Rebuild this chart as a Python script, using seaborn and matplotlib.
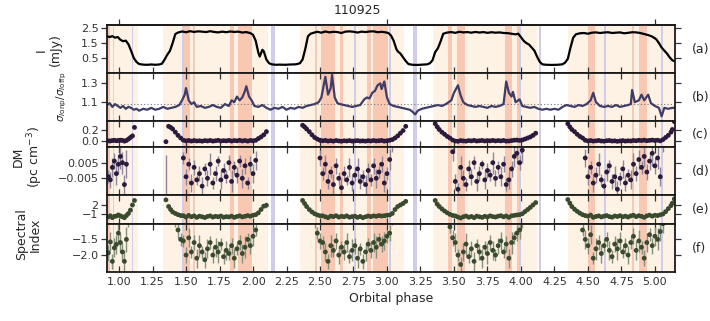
import numpy as np
import pandas as pd
import matplotlib
matplotlib.use("Agg")
import matplotlib.pyplot as plt
import seaborn as sns

# ---------------- data ----------------
title = "110925"
panel_tags = ["(a)", "(b)", "(c)", "(d)", "(e)", "(f)"]

# (a) total intensity
phase_a = [0.91,0.93,0.95,0.97,0.99,1.01,1.03,1.05,1.07,1.09,1.11,1.13,1.15,1.18,1.21,1.24,1.27,1.30,1.32,1.34,
           1.36,1.38,1.40,1.42,1.44,1.47,1.50,1.53,1.56,1.59,1.62,1.65,1.68,1.71,1.74,1.77,1.80,1.83,1.86,1.89,
           1.92,1.95,1.98,2.00,2.02,2.04,2.05,2.07,2.08,2.10,2.12,2.14,2.17,2.20,2.24,2.28,2.32,2.35,2.37,2.39,
           2.41,2.43,2.45,2.48,2.51,2.54,2.57,2.60,2.63,2.66,2.69,2.72,2.75,2.78,2.81,2.84,2.87,2.90,2.93,2.96,
           2.99,3.01,3.03,3.05,3.07,3.08,3.10,3.12,3.14,3.16,3.19,3.23,3.27,3.30,3.32,3.34,3.36,3.38,3.40,3.42,
           3.45,3.48,3.51,3.54,3.57,3.60,3.63,3.66,3.69,3.72,3.75,3.78,3.81,3.84,3.87,3.90,3.93,3.96,3.98,4.00,
           4.02,4.04,4.06,4.08,4.10,4.12,4.14,4.16,4.19,4.23,4.27,4.31,4.33,4.35,4.37,4.39,4.41,4.44,4.47,4.50,
           4.53,4.56,4.59,4.62,4.65,4.68,4.71,4.74,4.77,4.80,4.83,4.86,4.89,4.92,4.95,4.98,5.01,5.03,5.05,5.07,
           5.09,5.11,5.13,5.15]
flux_a = [1.95,1.90,1.96,1.86,1.90,1.72,1.62,1.66,1.42,0.98,0.50,0.24,0.10,0.06,0.05,0.07,0.05,0.07,0.12,0.40,
          0.72,0.98,1.50,2.10,2.20,2.27,2.22,2.29,2.24,2.28,2.26,2.23,2.29,2.24,2.21,2.26,2.22,2.27,2.24,2.26,
          2.20,2.23,2.16,2.05,1.65,0.85,0.60,1.05,0.95,0.40,0.15,0.08,0.05,0.06,0.05,0.07,0.08,0.15,0.40,1.10,
          1.95,2.12,2.18,2.25,2.19,2.27,2.21,2.25,2.23,2.17,2.26,2.28,2.25,2.20,2.26,2.23,2.27,2.28,2.22,2.25,
          2.21,2.17,2.00,1.65,1.10,0.95,0.80,0.55,0.30,0.10,0.05,0.04,0.06,0.08,0.15,0.35,0.90,1.15,1.60,2.12,
          2.20,2.23,2.18,2.25,2.21,2.23,2.19,2.24,2.20,2.23,2.18,2.22,2.19,2.21,2.17,2.16,2.12,2.08,2.12,1.90,
          1.65,1.50,1.40,1.20,1.00,0.60,0.25,0.08,0.05,0.04,0.05,0.08,0.20,0.45,1.20,1.85,2.08,2.15,2.17,2.12,
          2.19,2.21,2.17,2.20,2.22,2.17,2.19,2.21,2.15,2.18,2.22,2.21,2.17,2.10,2.03,1.93,1.75,1.50,1.20,1.00,
          0.80,0.55,0.35,0.28]

# (b) on/off-pulse rms ratio
phase_b = [0.91,0.93,0.95,0.97,0.99,1.01,1.03,1.05,1.07,1.09,1.11,1.13,1.15,1.18,1.21,1.24,1.27,1.30,1.33,1.36,
           1.39,1.42,1.45,1.47,1.49,1.50,1.52,1.54,1.56,1.58,1.61,1.64,1.67,1.70,1.73,1.76,1.79,1.82,1.84,1.86,
           1.88,1.90,1.92,1.94,1.95,1.97,1.99,2.01,2.04,2.07,2.10,2.13,2.16,2.19,2.22,2.25,2.28,2.31,2.34,2.37,
           2.40,2.43,2.46,2.49,2.51,2.53,2.54,2.56,2.58,2.59,2.61,2.63,2.65,2.68,2.71,2.74,2.77,2.80,2.83,2.85,
           2.87,2.89,2.91,2.93,2.95,2.96,2.98,3.00,3.02,3.05,3.08,3.11,3.14,3.17,3.19,3.21,3.23,3.26,3.29,3.32,
           3.35,3.38,3.41,3.44,3.46,3.48,3.50,3.53,3.55,3.57,3.60,3.63,3.66,3.69,3.72,3.75,3.78,3.81,3.84,3.87,
           3.89,3.91,3.93,3.94,3.96,3.99,4.01,4.04,4.07,4.10,4.13,4.16,4.19,4.22,4.25,4.28,4.31,4.34,4.37,4.40,
           4.43,4.46,4.49,4.52,4.54,4.56,4.59,4.62,4.65,4.68,4.71,4.74,4.77,4.80,4.82,4.83,4.85,4.88,4.90,4.92,
           4.95,4.97,5.00,5.03,5.05,5.07,5.10,5.13,5.15]
ratio_b = [1.07,1.09,1.05,1.08,1.06,1.04,1.06,1.03,1.05,1.04,1.02,1.03,1.01,1.03,1.02,1.04,1.02,1.03,1.05,1.03,
           1.04,1.05,1.07,1.12,1.18,1.25,1.12,1.08,1.10,1.05,1.06,1.04,1.05,1.07,1.05,1.04,1.08,1.06,1.12,1.10,
           1.16,1.12,1.15,1.22,1.27,1.16,1.12,1.06,1.05,1.07,1.04,1.02,1.04,1.03,1.05,1.02,1.04,1.03,1.05,1.04,
           1.06,1.07,1.08,1.10,1.15,1.30,1.37,1.18,1.25,1.39,1.15,1.09,1.08,1.07,1.06,1.05,1.06,1.07,1.13,1.15,
           1.14,1.20,1.22,1.28,1.30,1.24,1.32,1.15,1.08,1.06,1.05,1.04,1.03,1.02,1.00,0.97,1.01,1.03,1.04,1.05,
           1.06,1.07,1.06,1.08,1.10,1.12,1.20,1.28,1.17,1.10,1.07,1.06,1.05,1.06,1.05,1.04,1.06,1.05,1.06,1.08,
           1.32,1.20,1.16,1.21,1.10,1.13,1.06,1.05,1.04,1.05,1.03,1.02,1.03,1.02,1.03,1.02,1.05,1.07,1.06,1.05,
           1.07,1.06,1.08,1.12,1.20,1.10,1.06,1.05,1.06,1.05,1.07,1.05,1.06,1.07,1.08,1.23,1.10,1.12,1.18,1.12,
           1.18,1.09,1.06,1.04,0.95,1.04,1.03,1.04,1.04]
ratio_ref = 1.08

# (c)-(f) per-bin DM and spectral index (same bins)
phase_bins = ([0.92,0.935,0.95,0.965,0.98,0.995,1.01,1.025,1.04,1.055,1.07,1.085,1.10,1.115]
    + [1.35,1.37,1.385,1.40,1.42,1.44,1.46,1.48,1.50,1.52,1.54,1.56,1.58,1.60,1.62,1.64,1.66,1.68,1.70,1.72,
       1.74,1.76,1.78,1.80,1.82,1.84,1.86,1.88,1.90,1.92,1.94,1.96,1.98,2.00,2.02,2.04,2.06,2.08,2.10]
    + [2.37,2.385,2.40,2.42,2.44,2.46,2.48,2.50,2.52,2.54,2.56,2.58,2.60,2.62,2.64,2.66,2.68,2.70,2.72,2.74,
       2.76,2.78,2.80,2.82,2.84,2.86,2.88,2.90,2.92,2.94,2.96,2.98,3.00,3.02,3.04,3.06,3.08,3.10,3.12,3.14]
    + [3.36,3.375,3.39,3.41,3.43,3.45,3.47,3.49,3.51,3.53,3.55,3.57,3.59,3.61,3.63,3.65,3.67,3.69,3.71,3.73,
       3.75,3.77,3.79,3.81,3.83,3.85,3.87,3.89,3.91,3.93,3.95,3.97,3.99,4.01,4.03,4.05,4.07,4.09,4.11]
    + [4.35,4.365,4.38,4.40,4.42,4.44,4.46,4.48,4.50,4.52,4.54,4.56,4.58,4.60,4.62,4.64,4.66,4.68,4.70,4.72,
       4.74,4.76,4.78,4.80,4.82,4.84,4.86,4.88,4.90,4.92,4.94,4.96,4.98,5.00,5.02,5.04,5.06,5.08,5.10,5.12,
       5.13,5.145])

dm = ([-0.004,-0.006,0.002,0.006,-0.002,0.004,0.009,0.005,-0.009,0.004,0.03,0.06,0.09,0.25]
    + [-0.02,0.27,0.25,0.22,0.16,0.10,0.05,0.008,-0.004,0.004,-0.008,0.002,-0.006,-0.002,-0.010,0.001,
       -0.005,0.004,-0.008,-0.002,0.006,-0.006,0.000,-0.004,0.005,-0.007,0.002,-0.003,0.006,-0.005,0.003,
       -0.008,0.004,-0.002,0.0065,0.04,0.07,0.11,0.17]
    + [0.29,0.26,0.22,0.17,0.11,0.06,0.03,0.008,-0.002,0.004,-0.007,-0.001,-0.009,0.003,-0.005,-0.011,
       -0.002,-0.006,0.002,-0.008,-0.003,0.001,-0.007,-0.004,-0.009,0.000,-0.006,0.003,-0.005,-0.001,0.004,
       -0.008,-0.002,0.007,0.02,0.05,0.09,0.14,0.19,0.27]
    + [0.32,0.26,0.21,0.16,0.12,0.08,0.05,0.012,-0.007,-0.012,0.002,-0.005,-0.009,0.001,-0.004,0.005,
       -0.007,-0.002,0.004,-0.006,0.000,-0.003,0.005,-0.005,0.002,-0.004,0.004,-0.009,-0.006,0.001,0.009,
       0.011,0.005,0.013,0.03,0.05,0.07,0.10,0.14]
    + [0.32,0.26,0.21,0.17,0.12,0.08,0.05,0.008,-0.004,0.002,-0.008,-0.003,0.004,-0.006,-0.010,-0.001,
       0.003,-0.007,-0.004,-0.012,-0.005,0.001,-0.008,-0.003,-0.006,0.004,-0.002,0.007,0.002,0.009,-0.001,
       0.006,0.011,0.003,0.008,-0.004,0.02,0.06,0.10,0.16,0.21,0.36])

dm_err = ([0.004,0.005,0.006,0.005,0.007,0.006,0.008,0.007,0.006,0.009,0.01,0.012,0.015,0.02]
    + [0.03,0.015,0.012,0.012,0.01,0.01,0.008,0.004,0.005,0.004,0.006,0.005,0.003,0.005,0.006,0.004,
       0.005,0.007,0.004,0.005,0.003,0.006,0.005,0.004,0.005,0.007,0.004,0.005,0.004,0.006,0.005,0.004,
       0.005,0.006,0.006,0.008,0.01,0.012,0.05]
    + [0.015,0.012,0.012,0.01,0.01,0.008,0.008,0.005,0.004,0.006,0.005,0.004,0.007,0.005,0.004,0.006,
       0.005,0.003,0.006,0.005,0.004,0.007,0.005,0.004,0.006,0.005,0.004,0.005,0.006,0.004,0.005,0.006,
       0.004,0.007,0.008,0.01,0.01,0.012,0.012,0.015]
    + [0.015,0.012,0.012,0.01,0.01,0.008,0.008,0.006,0.005,0.004,0.007,0.005,0.004,0.006,0.005,0.004,
       0.006,0.005,0.003,0.006,0.005,0.004,0.007,0.005,0.004,0.006,0.005,0.004,0.006,0.005,0.007,0.006,
       0.005,0.008,0.008,0.01,0.01,0.012,0.015]
    + [0.015,0.012,0.012,0.01,0.01,0.008,0.008,0.006,0.005,0.004,0.006,0.005,0.007,0.004,0.005,0.006,
       0.004,0.005,0.007,0.005,0.004,0.006,0.005,0.004,0.006,0.007,0.005,0.006,0.004,0.007,0.005,0.006,
       0.008,0.005,0.007,0.006,0.008,0.01,0.012,0.012,0.015,0.02])

spec_idx = ([-1.93,-1.58,-2.2,-1.77,-1.66,-1.3,-1.6,-1.9,-2.2,-1.5,-0.8,0.3,2.0,3.5]
    + [3.7,1.5,0.5,-0.3,-0.8,-1.2,-1.5,-1.55,-2.0,-1.45,-1.9,-1.6,-2.1,-1.7,-1.9,-2.15,-1.8,-1.6,-2.0,
       -1.75,-1.9,-1.65,-2.05,-1.85,-1.95,-1.7,-2.1,-1.8,-1.6,-1.95,-1.75,-1.5,-1.7,-1.4,-1.2,-0.6,0.5,1.6,1.9]
    + [3.5,2.5,1.5,0.5,-0.3,-0.9,-1.3,-1.55,-1.6,-1.9,-2.2,-1.7,-1.85,-1.55,-2.0,-1.75,-1.9,-1.6,-2.05,
       -1.85,-1.7,-2.1,-1.8,-2.2,-1.9,-1.65,-1.85,-1.6,-1.75,-1.5,-1.65,-1.55,-1.4,-1.3,-0.8,0.5,1.5,2.0,
       2.5,3.2]
    + [3.5,2.3,1.5,0.7,0.0,-0.6,-1.1,-1.45,-1.6,-2.0,-2.3,-1.9,-1.65,-2.05,-1.8,-2.2,-1.7,-1.9,-2.1,
       -1.75,-1.95,-1.6,-1.85,-2.0,-1.7,-1.55,-1.9,-1.65,-2.1,-1.6,-1.45,-1.3,-1.2,-0.9,-0.2,0.5,1.2,2.0,2.8]
    + [3.8,2.6,1.5,0.6,-0.1,-0.7,-1.2,-1.5,-1.7,-1.35,-2.1,-1.8,-1.6,-1.95,-1.7,-1.5,-1.85,-2.05,-1.65,
       -1.8,-1.55,-1.9,-1.7,-2.0,-1.6,-1.4,-1.85,-1.55,-1.75,-2.1,-1.6,-1.35,-1.7,-1.4,-1.5,-1.25,-1.0,
       -0.2,0.8,1.8,2.6,4.0])

spec_err = ([0.25,0.3,0.25,0.3,0.3,0.35,0.3,0.3,0.35,0.4,0.3,0.3,0.3,0.3]
    + [0.3,0.3,0.3,0.3,0.3,0.25,0.2,0.2,0.25,0.3,0.2,0.25,0.3,0.35,0.2,0.25,0.3,0.2,0.25,0.3,0.35,0.2,
       0.25,0.3,0.2,0.25,0.3,0.2,0.25,0.3,0.35,0.2,0.25,0.3,0.2,0.25,0.3,0.3,1.0]
    + [0.3,0.3,0.3,0.3,0.3,0.25,0.2,0.25,0.2,0.3,0.25,0.35,0.2,0.25,0.3,0.2,0.25,0.3,0.2,0.35,0.25,0.3,
       0.2,0.25,0.3,0.2,0.25,0.3,0.35,0.2,0.25,0.3,0.2,0.25,0.25,0.3,0.3,0.3,0.3,0.3]
    + [0.3,0.3,0.3,0.3,0.3,0.25,0.2,0.25,0.3,0.2,0.25,0.3,0.35,0.2,0.25,0.3,0.2,0.25,0.3,0.2,0.35,0.25,
       0.3,0.2,0.25,0.3,0.2,0.25,0.3,0.35,0.2,0.25,0.3,0.25,0.25,0.3,0.3,0.3,0.3]
    + [0.3,0.3,0.3,0.3,0.3,0.25,0.2,0.3,0.25,0.3,0.2,0.35,0.25,0.3,0.2,0.25,0.3,0.2,0.25,0.35,0.3,0.2,
       0.25,0.3,0.2,0.25,0.3,0.35,0.2,0.25,0.3,0.2,0.25,0.3,0.35,0.3,0.3,0.3,0.3,0.3,0.3,0.3])

# shaded phase intervals
light_spans = [(0.91, 1.14), (1.33, 2.11), (2.35, 3.13), (3.34, 4.12), (4.35, 5.15)]
salmon_spans = [(0.92, 0.93), (0.955, 0.965), (1.485, 1.53), (1.55, 1.565), (1.83, 1.855), (1.885, 1.99),
                (2.46, 2.48), (2.505, 2.61), (2.65, 2.67), (2.85, 2.88), (2.895, 3.01), (3.455, 3.485),
                (3.52, 3.58), (3.88, 3.93), (3.97, 3.995), (4.50, 4.55), (4.83, 4.845), (4.88, 4.94)]
lavender_spans = [(1.093, 1.107), (1.473, 1.487), (2.137, 2.163), (2.753, 2.767), (3.013, 3.027),
                  (3.197, 3.223), (3.983, 3.997), (4.133, 4.147), (4.623, 4.637), (5.043, 5.057)]

# ---------------- style ----------------
sns.set_theme(style="ticks")
plt.rcParams["font.family"] = ["DejaVu Sans"]
plt.rcParams["axes.edgecolor"] = "#1a1a1a"
plt.rcParams["xtick.color"] = "#333333"
plt.rcParams["ytick.color"] = "#333333"

C_LIGHT = "#fdf2e3"
C_SALMON = "#f9c8b2"
C_LAV = "#d0cdea"
C_DM = "#2c1a3c"
C_SI = "#3a4a2f"

fig = plt.figure(figsize=(7.1, 3.21), dpi=100)
gs = fig.add_gridspec(6, 1, height_ratios=[48, 48, 26, 48, 29, 48], hspace=0,
                      left=0.1507, right=0.9507, top=0.922, bottom=0.1526)
axes = []
for i in range(6):
    ax = fig.add_subplot(gs[i], sharex=axes[0] if axes else None)
    axes.append(ax)

for ax in axes:
    for s, e in light_spans:
        ax.axvspan(s, e, color=C_LIGHT, lw=0, zorder=0)
    for s, e in salmon_spans:
        ax.axvspan(s, e, color=C_SALMON, lw=0, zorder=0.5)
    for s, e in lavender_spans:
        ax.axvspan(s, e, color=C_LAV, lw=0, zorder=0.6)
    for sp in ax.spines.values():
        sp.set_linewidth(1.3)
        sp.set_zorder(5)

# (a)
sns.lineplot(x=phase_a, y=flux_a, ax=axes[0], color="black", lw=1.6,
             estimator=None, sort=False, zorder=3)
axes[0].set_ylim(-0.5, 2.7)
axes[0].set_yticks([0.5, 1.5, 2.5])

# (b)
sns.lineplot(x=phase_b, y=ratio_b, ax=axes[1], color="#3f3c68", lw=1.6,
             estimator=None, sort=False, zorder=3)
axes[1].axhline(ratio_ref, ls=(0, (1, 2)), color="#777777", lw=0.8, zorder=2)
axes[1].set_ylim(0.9, 1.41)
axes[1].set_yticks([1.1, 1.3])

# (c),(d) DM
for ax, ec in [(axes[2], "#b9b4c2"), (axes[3], "#8f889c")]:
    ax.errorbar(phase_bins, dm, yerr=dm_err, xerr=0.008, fmt="none", ecolor=ec,
                elinewidth=1.0, zorder=2)
    sns.scatterplot(x=phase_bins, y=dm, ax=ax, color=C_DM, s=12, edgecolor="none",
                    zorder=3, legend=False)
axes[2].set_ylim(-0.12, 0.37)
axes[2].set_yticks([0.0, 0.2])
axes[3].set_ylim(-0.0157, 0.015)
axes[3].set_yticks([-0.005, 0.005])
axes[3].set_yticklabels(["\u22120.005", "0.005"])

# (e),(f) spectral index
for ax, ec in [(axes[4], "#c3c8bd"), (axes[5], "#86907c")]:
    ax.errorbar(phase_bins, spec_idx, yerr=spec_err, xerr=0.008, fmt="none", ecolor=ec,
                elinewidth=1.0, zorder=2)
    sns.scatterplot(x=phase_bins, y=spec_idx, ax=ax, color=C_SI, s=12, edgecolor="none",
                    zorder=3, legend=False)
axes[4].set_ylim(-4.3, 5.3)
axes[4].set_yticks([-1, 2])
axes[4].set_yticklabels(["\u22121", "2"])
axes[5].set_ylim(-2.54, -1.01)
axes[5].set_yticks([-2.0, -1.5])

axes[0].set_xlim(0.91, 5.15)

for i, ax in enumerate(axes):
    ax.set_ylabel("")
    ax.tick_params(axis="y", which="both", left=True, right=True, direction="out",
                   length=4, width=0.9, labelsize=8, pad=2)
    if i < 4:
        ax.set_xticks([1, 2, 3, 4, 5])
    else:
        ax.set_xticks([1.0, 1.25, 1.5, 1.75, 2.0, 2.25, 2.5, 2.75, 3.0, 3.25, 3.5, 3.75,
                       4.0, 4.25, 4.5, 4.75, 5.0])
    ax.tick_params(axis="x", which="both", bottom=True, top=True, direction="in",
                   length=4, width=0.9, labelsize=8, labelbottom=(i == 5))

sec = axes[0].secondary_xaxis("top")
sec.set_xticks([1, 2, 3, 4, 5])
sec.tick_params(axis="x", direction="out", length=4, width=0.9, labeltop=False)
axes[0].tick_params(axis="x", top=False)

axes[5].set_xticklabels(["1.00", "1.25", "1.50", "1.75", "2.00", "2.25", "2.50", "2.75", "3.00",
                         "3.25", "3.50", "3.75", "4.00", "4.25", "4.50", "4.75", "5.00"])
axes[5].set_xlabel("Orbital phase", fontsize=9, labelpad=4)

# labels
fig.text(0.503, 0.967, title, ha="center", va="center", fontsize=9)
fig.text(0.068, 0.845, "I\n(mJy)", rotation=90, ha="center", va="center", fontsize=9,
         linespacing=1.1)
fig.text(0.087, 0.70, r"$\sigma_{I\mathrm{onp}}/\sigma_{I\mathrm{offp}}$", rotation=90,
         ha="center", va="center", fontsize=7.5)
fig.text(0.040, 0.51, "DM\n(pc cm$^{-3}$)", rotation=90, ha="center", va="center",
         fontsize=9, linespacing=1.1)
fig.text(0.040, 0.27, "Spectral\nIndex", rotation=90, ha="center", va="center",
         fontsize=9, linespacing=1.1)

for ax, tag in zip(axes, panel_tags):
    ax.text(1.03, 0.5, tag, transform=ax.transAxes, ha="left", va="center", fontsize=9)

fig.savefig("out.png", dpi=100)
